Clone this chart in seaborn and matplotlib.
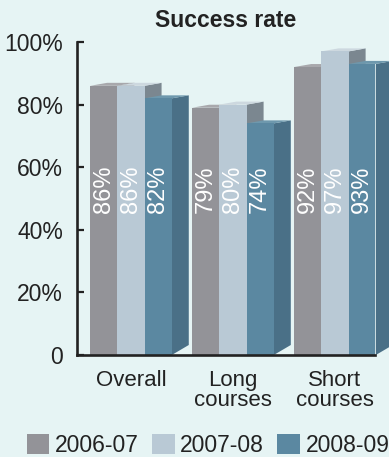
import matplotlib
matplotlib.use("Agg")
import matplotlib.pyplot as plt
import seaborn as sns
import pandas as pd
from matplotlib.patches import Polygon

categories = ["Overall", "Long\ncourses", "Short\ncourses"]
years = ["2006-07", "2007-08", "2008-09"]
values_2006 = [86, 79, 92]
values_2007 = [86, 80, 97]
values_2008 = [82, 74, 93]
ytick_vals = [0, 20, 40, 60, 80, 100]
ytick_labels = ["0", "20%", "40%", "60%", "80%", "100%"]

front_colors = ["#939398", "#b9c9d5", "#5b88a1"]
side_colors = ["#7c7c81", "#7b8790", "#4a7087"]
top_colors = ["#a8a8ac", "#cdd8df", "#6e98ad"]
bg = "#e6f4f4"
ink = "#222222"

rows = []
for y, vals in zip(years, [values_2006, values_2007, values_2008]):
    for c, v in zip(categories, vals):
        rows.append({"category": c, "year": y, "value": v})
df = pd.DataFrame(rows)

sns.set_theme(style="white")
plt.rcParams["font.family"] = ["Liberation Sans", "DejaVu Sans"]

fig = plt.figure(figsize=(3.89, 4.57), dpi=100, facecolor=bg)
ax = fig.add_axes([77 / 389, 102 / 457, (375 - 77) / 389, (415 - 102) / 457])
ax.set_facecolor(bg)

sns.barplot(data=df, x="category", y="value", hue="year", order=categories,
            hue_order=years, palette=front_colors, saturation=1, width=0.8,
            linewidth=0, ax=ax, errorbar=None)

ax.set_xlim(-0.529, 2.392)
ax.set_ylim(0, 100)

# 3D depth in axes pixel offsets converted to data units
fig.canvas.draw()
inv = ax.transData.inverted()
def px_to_data(dx, dy):
    x0, y0 = ax.transData.transform((0, 0))
    p = inv.transform((x0 + dx, y0 + dy))
    return p[0], p[1]

ddx, ddy_top = px_to_data(17, 3)
_, ddy_bot = px_to_data(17, 10)

n_cat = len(categories)
for i, patch in enumerate(ax.patches[: n_cat * len(years)]):
    k = i // n_cat
    x = patch.get_x()
    w = patch.get_width()
    h = patch.get_height()
    patch.set_zorder(3 + 2 * k)
    xr = x + w
    side = Polygon([(xr, 0), (xr + ddx, ddy_bot), (xr + ddx, h + ddy_top), (xr, h)],
                   closed=True, facecolor=side_colors[k], edgecolor="none",
                   zorder=2 + 2 * k, clip_on=False)
    top = Polygon([(x, h), (x + ddx, h + ddy_top), (xr + ddx, h + ddy_top), (xr, h)],
                  closed=True, facecolor=top_colors[k], edgecolor="none",
                  zorder=2 + 2 * k, clip_on=False)
    ax.add_patch(side)
    ax.add_patch(top)
    ax.text(x + w / 2, 60.5, f"{int(h)}%", rotation=90, ha="center", va="top",
            color="white", fontsize=17, zorder=20)

for s in ["top", "right"]:
    ax.spines[s].set_visible(False)
for s in ["left", "bottom"]:
    ax.spines[s].set_color(ink)
    ax.spines[s].set_linewidth(1.9)
    ax.spines[s].set_zorder(30)

ax.set_yticks(ytick_vals)
ax.set_yticklabels(ytick_labels)
ax.tick_params(axis="y", direction="in", length=5, width=1.6, color=ink,
               labelsize=16.5, labelcolor=ink, pad=10, left=True)
ax.tick_params(axis="x", length=0, labelsize=16, labelcolor=ink, pad=11)
for t in ax.get_xticklabels():
    t.set_linespacing(0.9)
ax.set_xlabel("")
ax.set_ylabel("")
ax.set_title("Success rate", fontsize=16.5, fontweight="bold", color=ink, pad=11)

handles, labels = ax.get_legend_handles_labels()
if ax.get_legend() is not None:
    ax.get_legend().remove()
fig.legend(handles, labels, loc="center", bbox_to_anchor=(208 / 389, 1 - 445.5 / 457),
           ncol=3, frameon=False, fontsize=16.5, handlelength=1.0, handleheight=1.0,
           handletextpad=0.25, columnspacing=0.55, borderpad=0, labelcolor=ink)

fig.savefig("out.png", dpi=100, facecolor=bg)
